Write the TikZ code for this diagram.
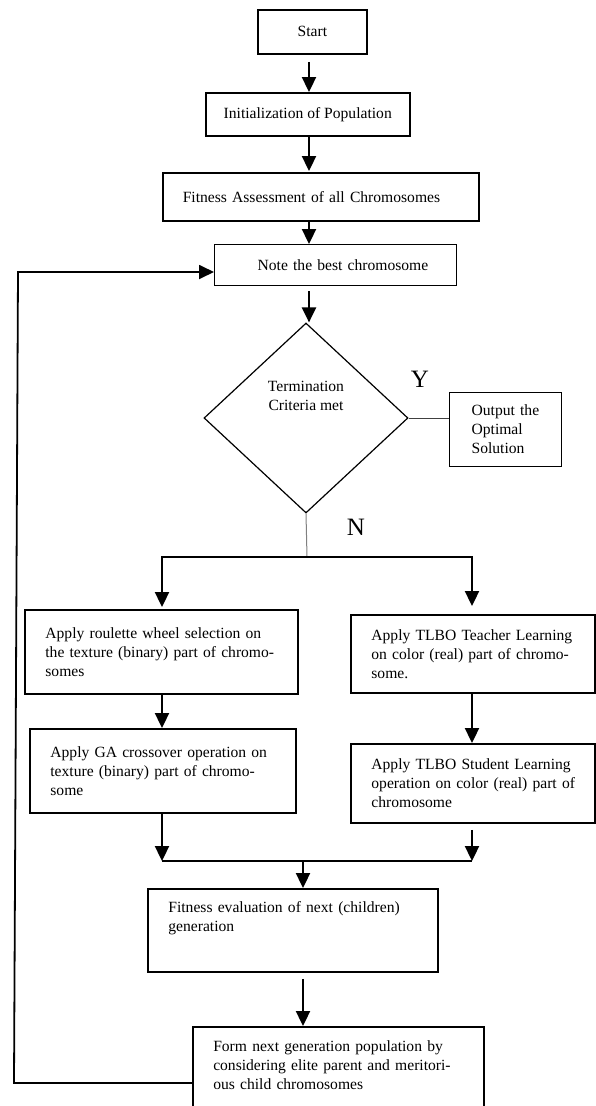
\documentclass[tikz,border=0pt]{standalone}
\usepackage{fontspec}
\setmainfont{Liberation Serif}
\usetikzlibrary{arrows.meta,shapes.geometric,calc}
\newcommand{\jl}[1]{\makebox[\hsize][s]{#1}}
\tikzset{
  frame/.style={draw, line width=1.8pt, rectangle, anchor=north west, inner sep=0pt},
  thinframe/.style={frame, line width=1.2pt},
  para/.style={inner xsep=20.5pt, align=left},
  arr/.style={line width=2.3pt, -{Triangle[width=14pt,length=15pt]}},
  yn/.style={font=\fontsize{25}{30}\selectfont},
}
\begin{document}
\begin{tikzpicture}[x=1pt,y=1pt,font=\fontsize{15.6}{19}\selectfont]
\useasboundingbox[fill=white] (0,0) rectangle (595,-1106);
% spine coordinates
\coordinate (sp) at (309,0);
\coordinate (lx) at (162,0);
\coordinate (rx) at (472,0);
% top chain
\node[frame, minimum width=109, minimum height=44] (start) at (257,-9) {Start};
\node[frame, line width=1.5pt, minimum width=204, minimum height=43] (init) at (205,-92) {Initialization of Population};
\node[frame, line width=1.5pt, minimum width=316, minimum height=48, inner xsep=20pt, text width=276, align=left] (fit) at (162,-172) {Fitness Assessment of all Chromosomes};
\node[thinframe, minimum width=242, minimum height=41, inner xsep=20pt, text width=202, align=left] (note) at (214,-244) {\hspace*{23pt}Note the best chromosome};
% decision
\node[draw, diamond, line width=1.2pt, minimum width=204, minimum height=190, inner sep=0pt,
      label={[align=center, yshift=22pt]center:Termination\\Criteria met}] (dec) at (306,-418) {};
\node[yn] (ylab) at (420,-379) {Y};
\node[yn] (nlab) at (356,-527) {N};
\node[thinframe, minimum width=112, minimum height=74, inner xsep=22pt, text width=68, align=left] (out) at (449,-392) {Output the\\Optimal\\Solution};
\coordinate (split) at (307,-557);
% branches
\node[frame, para, minimum width=273, minimum height=84, text width=232] (b1) at (24,-609)
  {\jl{Apply roulette wheel selection on}\\\jl{the texture (binary) part of chromo-}\\somes};
\node[frame, para, minimum width=266, minimum height=84, text width=225] (b2) at (29,-728)
  {\jl{Apply GA crossover operation on}\\\jl{texture (binary) part of chromo-}\\some};
\node[frame, para, minimum width=244, minimum height=78, text width=203] (r1) at (350,-614)
  {\jl{Apply TLBO Teacher Learning}\\\jl{on color (real) part of chromo-}\\some.};
\node[frame, para, minimum width=244, minimum height=79, text width=203] (r2) at (350,-743)
  {\jl{Apply TLBO Student Learning}\\\jl{operation on color (real) part of}\\chromosome};
\coordinate (mL) at (162,-861);
\coordinate (mR) at (472,-861);
\coordinate (mC) at (303,-861);
\node[frame, para, minimum width=290, minimum height=83, text width=249] (fe) at (147,-888)
  {\jl{Fitness evaluation of next (children)}\\generation\\[8pt]\mbox{}};
\node[frame, para, line width=1.5pt, minimum width=291, minimum height=100, text width=250] (form) at (192,-1026)
  {\jl{Form next generation population by}\\\jl{considering elite parent and meritori-}\\ous child chromosomes\\[4pt]\mbox{}};
\coordinate (fbB) at (14,-1083);
\coordinate (fbT) at (18,-272);
% connectors
\draw[arr] ([yshift=-7pt]start.south -| sp) -- (init.north -| sp);
\draw[arr] (init.south -| sp) -- ([yshift=1pt]fit.north -| sp);
\draw[arr] (fit.south -| sp) -- (note.north -| sp);
\draw[arr] ([yshift=-5pt]note.south -| sp) -- (dec.north -| sp);
\draw[line width=1pt, black!75] (dec.east) -- (out.west |- dec.east);
\draw[line width=1pt, gray] (dec.south) -- (split);
\draw[arr] (split) -| ([yshift=2pt]b1.north -| lx);
\draw[arr] (split) -| ([yshift=8pt]r1.north -| rx);
\draw[arr] (b1.south -| lx) -- (b2.north -| lx);
\draw[arr] (r1.south -| rx) -- (r2.north -| rx);
\draw[arr] (b2.south -| lx) -- (mL);
\draw[arr] ([yshift=-6pt]r2.south -| rx) -- (mR);
\draw[line width=2.3pt] (mL) -- (mR);
\draw[arr] (mC) -- (fe.north -| mC);
\draw[arr] ([yshift=-6pt]fe.south -| mC) -- (form.north -| mC);
\draw[arr, line width=1.8pt] (form.west |- fbB) -- (fbB) -- (fbT) -- (note.west |- fbT);
\end{tikzpicture}
\end{document}
